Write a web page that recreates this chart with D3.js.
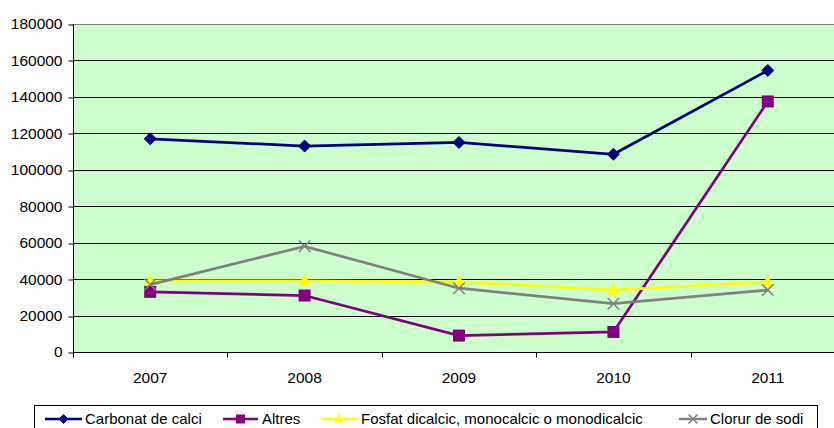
<!DOCTYPE html>
<html><head><meta charset="utf-8">
<script src="https://cdn.jsdelivr.net/npm/d3@7"></script>
<style>body{margin:0;background:#fff;overflow:hidden}svg{display:block}text{font-family:"Liberation Sans",Arial,sans-serif;fill:#000}</style>
</head><body><svg id="c" width="834" height="428"></svg>
<script>
const years = ["2007","2008","2009","2010","2011"];
const carbonat = [117000, 113000, 115000, 108500, 154500];
const altres = [33000, 31000, 9000, 11000, 137500];
const fosfat = [39000, 39000, 38500, 34000, 38500];
const clorur = [37000, 58000, 35000, 26500, 34000];
const yTicks = [0,20000,40000,60000,80000,100000,120000,140000,160000,180000];
const seriesNames = ["Carbonat de calci","Altres","Fosfat dicalcic, monocalcic o monodicalcic","Clorur de sodi"];

const series = [
  {name: seriesNames[0], values: carbonat, color: "#000080", marker: "diamond"},
  {name: seriesNames[1], values: altres, color: "#800080", marker: "square"},
  {name: seriesNames[2], values: fosfat, color: "#FFFF00", marker: "triangle"},
  {name: seriesNames[3], values: clorur, color: "#808080", marker: "x"}
];

const svg = d3.select("#c");
const L = 73, R = 845, T = 24, B = 352;
const x = d3.scaleBand().domain(years).range([L, R]);
const y = d3.scaleLinear().domain([0, 180000]).range([B, T]);

svg.append("rect").attr("x", L).attr("y", T).attr("width", R - L).attr("height", B - T).attr("fill", "#CCFFCC");

// gridlines
svg.append("g").selectAll("line").data(yTicks.filter(d => d > 0)).join("line")
  .attr("x1", L).attr("x2", R)
  .attr("y1", d => Math.round(y(d)) + 0.5).attr("y2", d => Math.round(y(d)) + 0.5)
  .attr("stroke", d => d === 180000 ? "#808080" : "#000").attr("stroke-width", 1);

// y axis
const yAxis = d3.axisLeft(y).tickValues(yTicks).tickSize(5).tickPadding(6).tickFormat(d3.format("d"));
const ya = svg.append("g").attr("transform", `translate(${L + 0.5},0)`).call(yAxis);
ya.select(".domain").attr("stroke", "#000").attr("d", `M0,${T}V${B + 0.5}`);
ya.selectAll(".tick line").attr("stroke", "#000").attr("transform", function(d){ return `translate(0,${Math.round(y(d)) + 0.5 - y(d)})`; });
ya.selectAll("text").attr("font-size", "15.5px").attr("font-family", '"Liberation Sans", Arial, sans-serif').attr("fill", "#000");

// x axis
const xa = svg.append("g").attr("transform", `translate(0,${B + 0.5})`);
xa.append("line").attr("x1", L).attr("x2", R).attr("stroke", "#000");
const bounds = years.map(d => x(d)).concat([R]);
xa.selectAll("line.tk").data(bounds).join("line").attr("class", "tk")
  .attr("x1", d => Math.round(d) + 0.5).attr("x2", d => Math.round(d) + 0.5).attr("y1", 0).attr("y2", 5).attr("stroke", "#000");
xa.selectAll("text").data(years).join("text")
  .attr("x", d => x(d) + x.bandwidth() / 2).attr("y", 30)
  .attr("text-anchor", "middle").attr("font-size", "15.5px").text(d => d);

// lines
const line = d3.line().x((d, i) => x(years[i]) + x.bandwidth() / 2).y(d => y(d));

function drawMarker(g, type, color, size) {
  const s = size;
  if (type === "diamond") {
    g.append("path").attr("d", `M0,${-s/2}L${s/2},0L0,${s/2}L${-s/2},0Z`).attr("fill", color).attr("stroke", color).attr("stroke-width", 1);
  } else if (type === "square") {
    g.append("rect").attr("x", -s/2).attr("y", -s/2).attr("width", s).attr("height", s).attr("fill", color);
  } else if (type === "triangle") {
    g.append("path").attr("d", `M0,${-s*0.6}L${s/2},${s*0.4}L${-s/2},${s*0.4}Z`).attr("fill", color);
  } else {
    const h = s/2;
    g.append("path").attr("d", `M${-h},${-h}L${h},${h}M${-h},${h}L${h},${-h}`).attr("stroke", color).attr("stroke-width", 1.5).attr("fill", "none");
  }
}

series.forEach(s => {
  const g = svg.append("g");
  g.append("path").attr("d", line(s.values)).attr("fill", "none").attr("stroke", s.color).attr("stroke-width", 2.75);
  s.values.forEach((v, i) => {
    const m = g.append("g").attr("transform", `translate(${x(years[i]) + x.bandwidth() / 2},${y(v)})`);
    drawMarker(m, s.marker, s.color, s.marker === "triangle" ? 12 : (s.marker === "x" ? 11.5 : 12));
  });
});

// legend
svg.append("rect").attr("x", 34.5).attr("y", 405.5).attr("width", 783).attr("height", 40).attr("fill", "#fff").attr("stroke", "#000");
const legendPos = [{lx: 45, lw: 37, tx: 85}, {lx: 223, lw: 35, tx: 262}, {lx: 321, lw: 36, tx: 361}, {lx: 679, lw: 28, tx: 710}];
series.forEach((s, i) => {
  const p = legendPos[i];
  const g = svg.append("g");
  const ly = 419;
  g.append("line").attr("x1", p.lx).attr("x2", p.lx + p.lw).attr("y1", ly).attr("y2", ly).attr("stroke", s.color).attr("stroke-width", 2.5);
  const m = g.append("g").attr("transform", `translate(${p.lx + p.lw / 2},${ly})`);
  drawMarker(m, s.marker, s.color, 9);
  g.append("text").attr("x", p.tx).attr("y", ly).attr("dy", "0.36em").attr("font-size", "15px").text(s.name);
});
</script></body></html>
